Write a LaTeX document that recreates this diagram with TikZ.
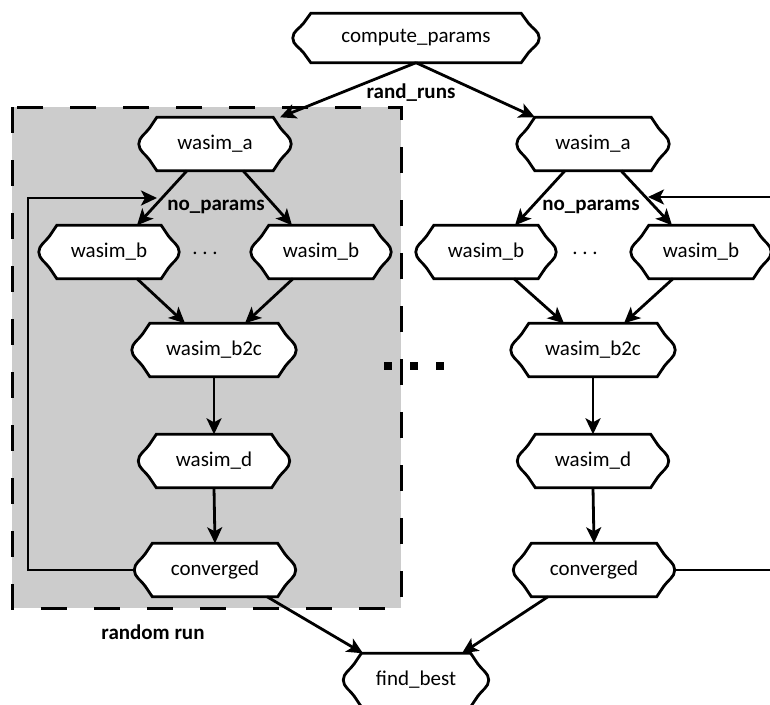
\documentclass[tikz,border=0pt]{standalone}
\usepackage{fontspec}
\setmainfont{Carlito}
\usetikzlibrary{arrows.meta,calc}
\pgfdeclarelayer{shade}
\pgfdeclarelayer{frames}
\pgfsetlayers{shade,frames,main}

\tikzset{
  stage/.style={rectangle, inner sep=0pt, minimum height=53pt,
    font=\fontsize{21}{24}\selectfont},
  flow/.style={line width=2.8pt, -{Stealth[length=16pt,width=15pt,inset=4pt]}},
  wire/.style={line width=2.8pt},
  tag/.style={font=\fontsize{21}{24}\selectfont\bfseries, inner sep=0pt},
  plain/.style={font=\fontsize{21}{24}\selectfont, inner sep=0pt},
  outline/.style={draw, fill=white, line width=2.8pt, line join=miter},
  runbox/.style={fill=black!20, draw=black, line width=3pt,
    dash pattern=on 26pt off 27pt},
  bigdot/.style={fill=black, draw=none, minimum size=8pt, inner sep=0pt, rectangle},
}

% stage outline: flat top and bottom, chamfered corners easing into round sides
\newcommand\stageframe[1]{%
  \draw[outline]
    ([xshift=18pt]#1.north west) -- ([xshift=-18pt]#1.north east)
    -- ($([xshift=-18pt]#1.north east)!0.4!(#1.east)$)
    .. controls ($([xshift=-18pt]#1.north east)!0.62!(#1.east)$) and ([yshift=7pt]#1.east) .. (#1.east)
    .. controls ([yshift=-7pt]#1.east) and ($([xshift=-18pt]#1.south east)!0.62!(#1.east)$)
    .. ($([xshift=-18pt]#1.south east)!0.4!(#1.east)$)
    -- ([xshift=-18pt]#1.south east) -- ([xshift=18pt]#1.south west)
    -- ($([xshift=18pt]#1.south west)!0.4!(#1.west)$)
    .. controls ($([xshift=18pt]#1.south west)!0.62!(#1.west)$) and ([yshift=-7pt]#1.west) .. (#1.west)
    .. controls ([yshift=7pt]#1.west) and ($([xshift=18pt]#1.north west)!0.62!(#1.west)$)
    .. ($([xshift=18pt]#1.north west)!0.4!(#1.west)$)
    -- cycle;}

\begin{document}
\begin{tikzpicture}[x=1pt,y=-1pt]
\useasboundingbox (0,0) rectangle (770,704);

% stages
\node[stage, minimum width=246pt, minimum height=49pt] (cp) at (416,38) {compute\_params};

\node[stage, minimum width=152pt] (a1) at (215,144) {wasim\_a};
\node[stage, minimum width=140pt] (b1l) at (109,252) {wasim\_b};
\node[stage, minimum width=140pt] (b1r) at (321,252) {wasim\_b};
\node[stage, minimum width=164pt] (c1) at (214,350) {wasim\_b2c};
\node[stage, minimum width=151pt] (d1) at (214,461) {wasim\_d};
\node[stage, minimum width=161pt] (v1) at (215,570) {converged};

\node[stage, minimum width=152pt] (a2) at (593,144) {wasim\_a};
\node[stage, minimum width=140pt] (b2l) at (486,252) {wasim\_b};
\node[stage, minimum width=140pt] (b2r) at (701,252) {wasim\_b};
\node[stage, minimum width=164pt] (c2) at (593,350) {wasim\_b2c};
\node[stage, minimum width=151pt] (d2) at (593,461) {wasim\_d};
\node[stage, minimum width=161pt] (v2) at (594,570) {converged};

\node[stage, minimum width=145pt] (fb) at (416,680) {find\_best};

% shaded random-run region
\begin{pgfonlayer}{shade}
  \draw[runbox] (12,107) rectangle (401,608);
\end{pgfonlayer}

\begin{pgfonlayer}{frames}
  \foreach \n in {cp,a1,b1l,b1r,c1,d1,v1,a2,b2l,b2r,c2,d2,v2,fb}{\stageframe{\n}}
\end{pgfonlayer}

% labels
\node[tag] (rr) at (411,93) {rand\_runs};
\node[tag] (np1) at (216,207) {no\_params};
\node[tag] (np2) at (591,207) {no\_params};
\node[tag] (rl) at (153,632) {random run};
\node[plain] (dt1) at (205,253) {.\ .\ .};
\node[plain] (dt2) at (585,253) {.\ .\ .};
\node[bigdot] (bd1) at (388,366) {};
\node[bigdot] (bd2) at (414,366) {};
\node[bigdot] (bd3) at (440,366) {};

% connectors
\draw[flow] (cp.south) -- ([xshift=65pt]a1.north);
\draw[flow] (cp.south) -- ([xshift=-58pt]a2.north);

\draw[flow] ([xshift=-28pt]a1.south) -- ([xshift=28pt]b1l.north);
\draw[flow] ([xshift=28pt]a1.south) -- ([xshift=-29pt]b1r.north);
\draw[flow] ([xshift=28pt]b1l.south) -- ([xshift=-29pt]c1.north);
\draw[flow] ([xshift=-28pt]b1r.south) -- ([xshift=31pt]c1.north);
\draw[flow] (c1.south) -- (d1.north);
\draw[flow] (d1.south) -- (v1.north);

\draw[flow] ([xshift=-28pt]a2.south) -- ([xshift=29pt]b2l.north);
\draw[flow] ([xshift=28pt]a2.south) -- ([xshift=-29pt]b2r.north);
\draw[flow] ([xshift=28pt]b2l.south) -- ([xshift=-29pt]c2.north);
\draw[flow] ([xshift=-28pt]b2r.south) -- ([xshift=31pt]c2.north);
\draw[flow] (c2.south) -- (d2.north);
\draw[flow] (d2.south) -- (v2.north);

% retry loops
\coordinate (lpA) at (28,570);
\coordinate (lpB) at (28,198);
\coordinate (lpC) at (157,198);
\draw[flow] (v1.west) -- (lpA) -- (lpB) -- (lpC);

\coordinate (rpA) at (772,570);
\coordinate (rpB) at (772,197);
\coordinate (rpC) at (648,197);
\draw[wire] (v2.east) -- (rpA);
\draw[flow] (rpB) -- (rpC);

% results
\draw[flow] ([xshift=52pt]v1.south) -- ([xshift=-53pt]fb.north);
\draw[flow] ([xshift=-46pt]v2.south) -- ([xshift=46pt]fb.north);
\end{tikzpicture}
\end{document}
